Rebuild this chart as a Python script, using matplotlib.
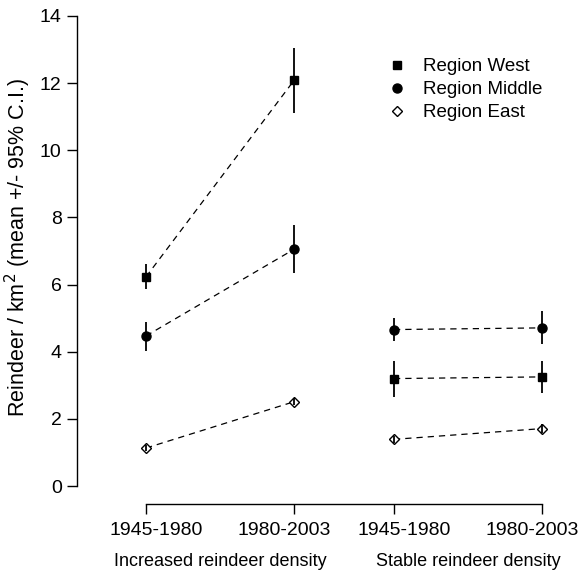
import numpy as np
import matplotlib.pyplot as plt
from matplotlib.transforms import ScaledTranslation

plt.rcParams['font.family'] = ['Liberation Sans', 'DejaVu Sans']

periods = ['1945-1980', '1980-2003', '1945-1980', '1980-2003']
groups = ['Increased reindeer density', 'Stable reindeer density']
regions = ['Region West', 'Region Middle', 'Region East']

# mean, lower CI, upper CI  (increased: first two, stable: last two)
west_mean = [6.23, 12.08, 3.20, 3.25]
west_lo = [5.87, 11.10, 2.64, 2.78]
west_hi = [6.60, 13.04, 3.73, 3.73]

middle_mean = [4.47, 7.05, 4.66, 4.71]
middle_lo = [4.03, 6.34, 4.33, 4.23]
middle_hi = [4.89, 7.77, 5.00, 5.21]

east_mean = [1.13, 2.51, 1.39, 1.71]
east_lo = [1.03, 2.41, 1.29, 1.58]
east_hi = [1.23, 2.61, 1.49, 1.84]

xpos = np.array([1, 2, 2.676, 3.676])

fig = plt.figure(figsize=(5.8, 5.74), dpi=100)
ax = fig.add_axes([77 / 580, 70 / 574, 503 / 580, 488 / 574])

styles = [
    ('s', 'black', 5.5),
    ('o', 'black', 6.5),
    ('D', 'white', 5.0),
]
series = [
    (west_mean, west_lo, west_hi),
    (middle_mean, middle_lo, middle_hi),
    (east_mean, east_lo, east_hi),
]

for (mean, lo, hi), (mk, fc, ms), name in zip(series, styles, regions):
    mean = np.array(mean)
    err = [mean - np.array(lo), np.array(hi) - mean]
    for sl in (slice(0, 2), slice(2, 4)):
        ax.plot(xpos[sl], mean[sl], ls=(0, (5, 4)), color='black', lw=0.9, zorder=1)
    ax.plot(xpos, mean, ls='none', marker=mk, mfc=fc, mec='black', mew=1.0,
            ms=ms, zorder=2, label=name)
    ax.errorbar(xpos, mean, yerr=err, fmt='none', ecolor='black',
                elinewidth=1.3, capsize=0, zorder=3)

ax.set_xlim(1 - 69 / 148, 3.676 + 38 / 148)
ax.set_ylim(-0.536, 14)

for s in ['top', 'right']:
    ax.spines[s].set_visible(False)
ax.spines['left'].set_bounds(0, 14)
ax.spines['bottom'].set_bounds(xpos[0], xpos[-1])
ax.spines['left'].set_linewidth(1.0)
ax.spines['bottom'].set_linewidth(1.0)

ax.set_yticks(np.arange(0, 15, 2))
ax.set_xticks(xpos)
ax.set_xticklabels(periods)
ax.tick_params(axis='both', length=7, width=1.0, labelsize=14, direction='out')
ax.tick_params(axis='x', pad=6)
ax.tick_params(axis='y', pad=4)

# pull the period labels of each pair slightly towards each other
for lab, dx in zip(ax.get_xticklabels(), [10, -10, 10, -10]):
    lab.set_transform(lab.get_transform() + ScaledTranslation(dx / 100, 0, fig.dpi_scale_trans))

ax.set_ylabel('Reindeer / km$^2$ (mean +/- 95% C.I.)', fontsize=15.5)
ax.yaxis.set_label_coords(-0.087, 0.525)

for gx, g in zip([(xpos[0] + xpos[1]) / 2, (xpos[2] + xpos[3]) / 2], groups):
    ax.text(gx, -2.25, g, ha='center', va='center', fontsize=13)

ax.legend(loc='upper left', bbox_to_anchor=(0.58, 0.948), frameon=False,
          fontsize=13.5, handletextpad=0.8, labelspacing=0.31, handlelength=1.2)

fig.savefig('out.png', dpi=100)
